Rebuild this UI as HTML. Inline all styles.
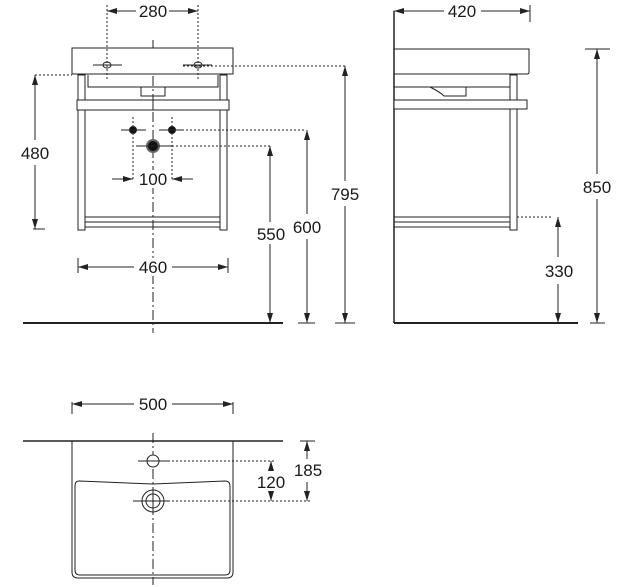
<!DOCTYPE html>
<html><head><meta charset="utf-8"><style>
html,body{margin:0;padding:0;background:#fff;width:620px;height:587px;overflow:hidden}
svg{display:block}
text{font-family:"Liberation Sans",sans-serif;font-size:17px;fill:#1a1a1a}
</style></head><body>
<svg width="620" height="587" viewBox="0 0 620 587" xmlns="http://www.w3.org/2000/svg">
<defs>
<marker id="a" viewBox="0 0 10 6" refX="10" refY="3" markerWidth="10" markerHeight="6" orient="auto-start-reverse" markerUnits="userSpaceOnUse"><path d="M0,0 L10,3 L0,6 z" fill="#222"/></marker>
</defs>
<g stroke="#222" stroke-width="1" fill="none">
<!-- FRONT VIEW -->
<line x1="153" y1="40" x2="153" y2="333" stroke-dasharray="10,3,2,3"/>
<rect x="72" y="48" width="161" height="26" fill="#fff"/>
<line x1="107" y1="5" x2="107" y2="80" stroke-dasharray="2,2"/>
<line x1="198" y1="5" x2="198" y2="80" stroke-dasharray="2,2"/>
<ellipse cx="107" cy="65" rx="4" ry="3"/><ellipse cx="198" cy="65" rx="4" ry="3"/>
<line x1="93" y1="65" x2="122" y2="65"/><line x1="183" y1="65" x2="212" y2="65"/>
<line x1="107" y1="11" x2="136" y2="11" marker-start="url(#a)"/>
<line x1="169" y1="11" x2="198" y2="11" marker-end="url(#a)"/>
<path d="M88,75 L88,87 L218,87 L218,75"/>
<rect x="141" y="87" width="24" height="9"/>
<rect x="78" y="75" width="7" height="155"/>
<rect x="220" y="75" width="7" height="155"/>
<rect x="77" y="100" width="152" height="10" fill="#fff"/>
<line x1="85" y1="217" x2="220" y2="217"/>
<line x1="85" y1="222" x2="220" y2="222"/>
<line x1="85" y1="227" x2="220" y2="227"/>
<line x1="153" y1="100" x2="153" y2="110" stroke-dasharray="10,3,2,3"/>
<circle cx="133" cy="130" r="3.5" fill="#111"/><circle cx="172" cy="130" r="3.5" fill="#111"/>
<line x1="121" y1="130" x2="146" y2="130"/><line x1="159" y1="130" x2="184" y2="130"/>
<line x1="133" y1="117" x2="133" y2="179" stroke-dasharray="2,2"/>
<line x1="172" y1="117" x2="172" y2="179" stroke-dasharray="2,2"/>
<circle cx="153" cy="146" r="6" fill="#111" stroke="#666" stroke-width="2"/>
<line x1="136" y1="146" x2="172" y2="146"/>
<line x1="178" y1="130" x2="305" y2="130" stroke-dasharray="2,2"/>
<line x1="172" y1="146" x2="272" y2="146" stroke-dasharray="2,2"/>
<line x1="112" y1="179" x2="133" y2="179" marker-end="url(#a)"/>
<line x1="193" y1="179" x2="172" y2="179" marker-end="url(#a)"/>
<line x1="35" y1="75" x2="72" y2="75" stroke-dasharray="2,2"/>
<line x1="35" y1="75" x2="35" y2="140" marker-start="url(#a)"/>
<line x1="35" y1="165" x2="35" y2="229" marker-end="url(#a)"/>
<line x1="33" y1="229" x2="45" y2="229"/>
<line x1="78" y1="258" x2="78" y2="273"/><line x1="228" y1="258" x2="228" y2="273"/>
<line x1="78" y1="267" x2="134" y2="267" marker-start="url(#a)"/>
<line x1="172" y1="267" x2="228" y2="267" marker-end="url(#a)"/>
<line x1="270" y1="146" x2="270" y2="222" marker-start="url(#a)"/>
<line x1="270" y1="244" x2="270" y2="323" marker-end="url(#a)"/>
<line x1="307" y1="130" x2="307" y2="214" marker-start="url(#a)"/>
<line x1="307" y1="239" x2="307" y2="323" marker-end="url(#a)"/>
<line x1="183" y1="66" x2="345" y2="66" stroke-dasharray="2,2"/>
<line x1="345" y1="66" x2="345" y2="181" marker-start="url(#a)"/>
<line x1="345" y1="206" x2="345" y2="323" marker-end="url(#a)"/>
<line x1="23" y1="323" x2="283" y2="323" stroke-width="2"/>
<line x1="298" y1="323" x2="315" y2="323"/><line x1="335" y1="323" x2="355" y2="323"/>
<!-- SIDE VIEW -->
<line x1="394" y1="11" x2="394" y2="323" stroke-width="1.5"/>
<line x1="530" y1="5" x2="530" y2="22"/>
<line x1="394" y1="11" x2="444" y2="11" marker-start="url(#a)"/>
<line x1="481" y1="11" x2="530" y2="11" marker-end="url(#a)"/>
<path d="M394,49 L529,49 L529,72 Q529,74 527,74 L394,74"/>
<rect x="510" y="75" width="7" height="155"/>
<line x1="394" y1="87" x2="510" y2="87"/>
<path d="M430,87 Q440,92 444,96 L466,96 L466,87"/>
<rect x="394" y="100" width="133" height="9" fill="#fff"/>
<line x1="394" y1="217" x2="510" y2="217"/>
<line x1="394" y1="222" x2="510" y2="222"/>
<line x1="394" y1="227" x2="510" y2="227"/>
<line x1="517" y1="217" x2="552" y2="217" stroke-dasharray="2,2"/>
<line x1="558" y1="217" x2="558" y2="257" marker-start="url(#a)"/>
<line x1="558" y1="284" x2="558" y2="323" marker-end="url(#a)"/>
<line x1="585" y1="49" x2="610" y2="49"/>
<line x1="597" y1="49" x2="597" y2="174" marker-start="url(#a)"/>
<line x1="597" y1="199" x2="597" y2="323" marker-end="url(#a)"/>
<line x1="394" y1="323" x2="578" y2="323" stroke-width="2"/>
<line x1="590" y1="323" x2="605" y2="323"/>
<!-- TOP VIEW -->
<line x1="72" y1="402" x2="72" y2="414"/><line x1="233" y1="402" x2="233" y2="414"/>
<line x1="72" y1="404" x2="134" y2="404" marker-start="url(#a)"/>
<line x1="172" y1="404" x2="233" y2="404" marker-end="url(#a)"/>
<line x1="23" y1="441" x2="283" y2="441" stroke-width="1.5"/>
<path d="M72,441 L72,572 Q72,578 78,578 L227,578 Q233,578 233,572 L233,441"/>
<path d="M79,481 Q75,481 75,486 L75,570 Q75,575 80,575 L225,575 Q230,575 230,570 L230,486 Q230,481 225,481 L153,484 Z"/>
<line x1="153" y1="433" x2="153" y2="585" stroke-dasharray="10,3,2,3"/>
<circle cx="153" cy="461" r="6" fill="#fff"/>
<line x1="138" y1="461" x2="168" y2="461"/>
<circle cx="153" cy="501" r="11" fill="#fff"/><circle cx="153" cy="501" r="7"/>
<line x1="133" y1="501" x2="168" y2="501"/>
<line x1="153" y1="490" x2="153" y2="512"/>
<line x1="160" y1="461" x2="275" y2="461" stroke-dasharray="2,2"/>
<line x1="168" y1="501" x2="310" y2="501" stroke-dasharray="2,2"/>
<line x1="271" y1="461" x2="271" y2="471" marker-start="url(#a)"/>
<line x1="271" y1="491" x2="271" y2="501" marker-end="url(#a)"/>
<line x1="300" y1="441" x2="315" y2="441"/>
<line x1="307" y1="441" x2="307" y2="459" marker-start="url(#a)"/>
<line x1="307" y1="482" x2="307" y2="501" marker-end="url(#a)"/>
</g>
<g fill="#fff">
<rect x="138" y="170" width="30" height="18"/>
<rect x="136" y="258" width="34" height="18"/>
</g>
<g text-anchor="middle">
<text x="153" y="17">280</text>
<text x="153" y="185">100</text>
<text x="35" y="159">480</text>
<text x="153" y="273">460</text>
<text x="271" y="240">550</text>
<text x="307" y="233">600</text>
<text x="345" y="200">795</text>
<text x="462" y="17">420</text>
<text x="597" y="193">850</text>
<text x="559" y="277">330</text>
<text x="153" y="410">500</text>
<text x="271" y="488">120</text>
<text x="308" y="476">185</text>
</g>
</svg>
</body></html>
